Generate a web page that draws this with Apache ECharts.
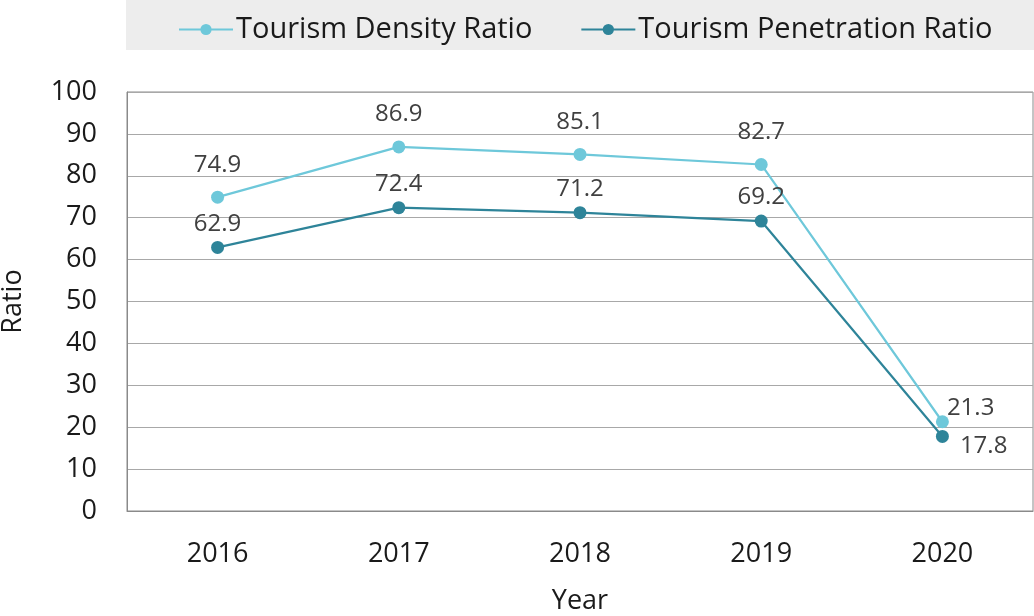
<!DOCTYPE html>
<html>
<head>
<meta charset="utf-8">
<script src="https://cdn.jsdelivr.net/npm/echarts@6/dist/echarts.min.js"></script>
<style>
  html, body { margin: 0; padding: 0; background: #fff; }
  #chart { width: 1034px; height: 616px; }
</style>
</head>
<body>
<div id="chart"></div>
<script>
var years = ['2016', '2017', '2018', '2019', '2020'];
var densityRatio = [74.9, 86.9, 85.1, 82.7, 21.3];
var penetrationRatio = [62.9, 72.4, 71.2, 69.2, 17.8];

var fontFamily = '"Open Sans", "Noto Sans", sans-serif';

// last point labels sit to the right of the marker
function withLabels(values, lastOffset) {
  return values.map(function (v, i) {
    if (i === values.length - 1) {
      return { value: v, label: { position: 'right', distance: 6, offset: lastOffset } };
    }
    return v;
  });
}

var chart = echarts.init(document.getElementById('chart'), null, { renderer: 'canvas' });

var option = {
  animation: false,
  textStyle: { fontFamily: fontFamily },
  graphic: [{
    type: 'rect',
    z: -1,
    shape: { x: 126, y: 0, width: 908, height: 50 },
    style: { fill: '#ededed' }
  }],
  legend: {
    left: 173,
    top: 10,
    itemWidth: 54,
    itemHeight: 14,
    itemGap: 48,
    textStyle: { fontSize: 29, color: '#1a1a1a', fontFamily: fontFamily, padding: [0, 0, 0, -2] },
    data: ['Tourism Density Ratio', 'Tourism Penetration Ratio']
  },
  grid: {
    left: 127,
    right: 1,
    top: 92,
    bottom: 105,
    outerBoundsMode: 'none',
    containLabel: false,
    show: true,
    borderColor: '#8a8a8a',
    borderWidth: 1
  },
  xAxis: {
    type: 'category',
    data: years,
    boundaryGap: true,
    name: 'Year',
    nameLocation: 'middle',
    nameGap: 77,
    nameTextStyle: { fontSize: 27, color: '#1a1a1a' },
    axisLine: { lineStyle: { color: '#8a8a8a' } },
    axisTick: { show: false },
    axisLabel: { fontSize: 27, color: '#1a1a1a', margin: 30 }
  },
  yAxis: {
    type: 'value',
    min: 0,
    max: 100,
    interval: 10,
    name: 'Ratio',
    nameLocation: 'middle',
    nameGap: 100,
    nameRotate: 90,
    nameTextStyle: { fontSize: 27, color: '#1a1a1a' },
    axisLine: { show: true, lineStyle: { color: '#8a8a8a' } },
    axisTick: { show: false },
    axisLabel: { fontSize: 27, color: '#1a1a1a', margin: 30 },
    splitLine: { lineStyle: { color: '#a8a8a8', width: 1 } }
  },
  series: [{
    name: 'Tourism Density Ratio',
    type: 'line',
    data: withLabels(densityRatio, [-8, -14]),
    color: '#6ec8da',
    symbol: 'circle',
    symbolSize: 13,
    lineStyle: { width: 2.2 },
    label: { show: true, position: 'top', distance: 14, fontSize: 24, color: '#404040' }
  }, {
    name: 'Tourism Penetration Ratio',
    type: 'line',
    data: withLabels(penetrationRatio, [5, 10]),
    color: '#2e8499',
    symbol: 'circle',
    symbolSize: 13,
    lineStyle: { width: 2.2 },
    label: { show: true, position: 'top', distance: 5, fontSize: 24, color: '#404040' }
  }]
};

chart.setOption(option);
window.addEventListener('resize', chart.resize);
</script>
</body>
</html>
